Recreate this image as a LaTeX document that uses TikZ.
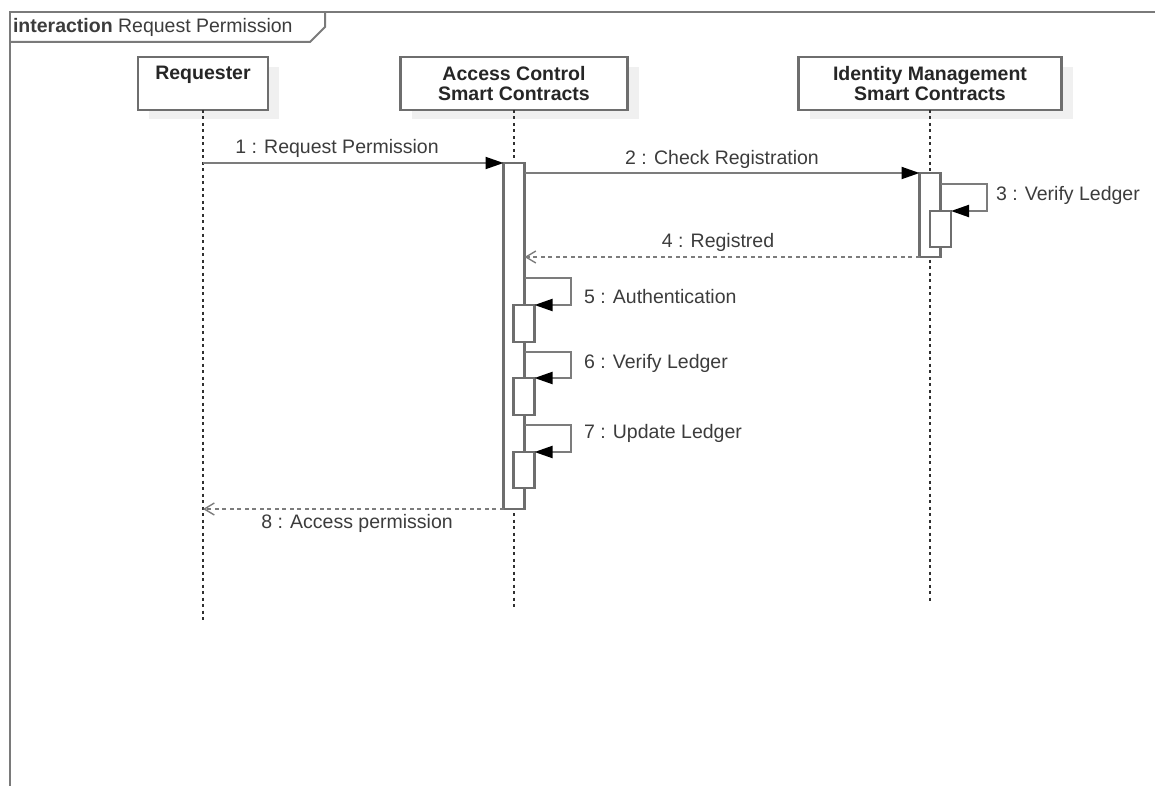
\documentclass[tikz,border=0pt]{standalone}
\usepackage{fontspec}
\setmainfont{Liberation Sans}
\usetikzlibrary{arrows.meta}
\definecolor{framegray}{HTML}{7A7A7A}
\definecolor{boxgray}{HTML}{6E6E6E}
\definecolor{msggray}{HTML}{7C7C7C}
\definecolor{shadowgray}{HTML}{F0F0F0}
\definecolor{txtgray}{HTML}{3C3C3C}
\definecolor{lifegray}{HTML}{303030}
\tikzset{
  every node/.style={font=\fontsize{19.5}{20}\selectfont, inner sep=0pt, outer sep=0pt},
  frameline/.style={draw=framegray, line width=2pt},
  headbox/.style={draw=boxgray, line width=2.6pt, fill=white, minimum height=53pt},
  headshadow/.style={fill=shadowgray},
  headtxt/.style={font=\fontsize{19.5}{20}\bfseries\selectfont, text=black!85, align=center},
  lifeline/.style={draw=lifegray, line width=1.8pt, dash pattern=on 3pt off 3.5pt},
  actbox/.style={draw=boxgray, line width=2.4pt, fill=white, minimum width=21pt, anchor=north west},
  msg/.style={draw=msggray, line width=2pt, -{Triangle[length=18pt, width=12pt, fill=black, color=black]}},
  reply/.style={draw=msggray, line width=2pt, dash pattern=on 4pt off 3.5pt, -{Straight Barb[length=10pt, width=12pt, line width=1.4pt]}},
  msgtxt/.style={text=txtgray},
}
\begin{document}
\begin{tikzpicture}[x=1pt, y=-1pt]
\useasboundingbox (0,0) rectangle (1155,786);

% interaction frame with its name tab
\draw[frameline] (10,786) -- (10,12.5) -- (1155,12.5);
\draw[frameline] (10,42) -- (310,42) -- (325,27) -- (325,12.5);
\node[anchor=west, text=txtgray] (frametitle) at (13,27.5) {\textbf{interaction} Request Permission};

% lifeline heads (shadow first, then the box)
\fill[headshadow] (149,67) rectangle (279,119);
\fill[headshadow] (412,67) rectangle (639,119);
\fill[headshadow] (810,67) rectangle (1073,119);
\node[headbox, minimum width=130pt] (req) at (203,83.5) {};
\node[headtxt] (reqtxt) at (203,75) {Requester};
\node[headbox, minimum width=227pt, headtxt] (acc) at (514,83.5) {Access Control\\Smart Contracts};
\node[headbox, minimum width=263pt, headtxt] (idm) at (930,83.5) {Identity Management\\Smart Contracts};

% lifelines
\coordinate (reqend) at (203,623);
\coordinate (accend) at (514,610);
\coordinate (idmend) at (930,602);
\draw[lifeline] (req.south) -- (reqend);
\draw[lifeline] (acc.south) -- (accend);
\draw[lifeline] (idm.south) -- (idmend);

% activation bars
\node[actbox, minimum height=346pt] (actA) at (503.5,163) {};
\node[actbox, minimum height=84pt] (actI) at (919.5,173) {};
\node[actbox, minimum height=36pt] (actI2) at (930,211) {};
\node[actbox, minimum height=37pt] (actA5) at (513.5,305) {};
\node[actbox, minimum height=37pt] (actA6) at (513.5,378) {};
\node[actbox, minimum height=36pt] (actA7) at (513.5,452) {};

% 1 : request
\coordinate (m1s) at (203,163);
\draw[msg] (m1s) -- (actA.north west);
\node[msgtxt] (l1) at (337,148) {1 : Request Permission};

% 2 : check registration
\draw[msg] (actA.east |- actI.north) -- (actI.north west);
\node[msgtxt] (l2) at (722,159) {2 : Check Registration};

% 3 : self call on identity management
\draw[msg] (actI.east |- 0,184) -- (987,184) -- (987,211) -- (actI2.north east);
\node[msgtxt, anchor=west] (l3) at (996,195) {3 : Verify Ledger};

% 4 : reply
\draw[reply] (actI.south west) -- (actA.east |- actI.south west);
\node[msgtxt] (l4) at (718,242) {4 : Registred};

% 5-7 : self calls on access control
\draw[msg] (actA.east |- 0,278) -- (571,278) -- (571,305) -- (actA5.north east);
\node[msgtxt, anchor=west] (l5) at (584,297) {5 : Authentication};
\draw[msg] (actA.east |- 0,352) -- (571,352) -- (571,378) -- (actA6.north east);
\node[msgtxt, anchor=west] (l6) at (584,363) {6 : Verify Ledger};
\draw[msg] (actA.east |- 0,425) -- (571,425) -- (571,452) -- (actA7.north east);
\node[msgtxt, anchor=west] (l7) at (584,433) {7 : Update Ledger};

% 8 : reply to requester
\coordinate (m8e) at (203,509);
\draw[reply] (actA.south west) -- (m8e);
\node[msgtxt] (l8) at (357,523) {8 : Access permission};
\end{tikzpicture}
\end{document}
